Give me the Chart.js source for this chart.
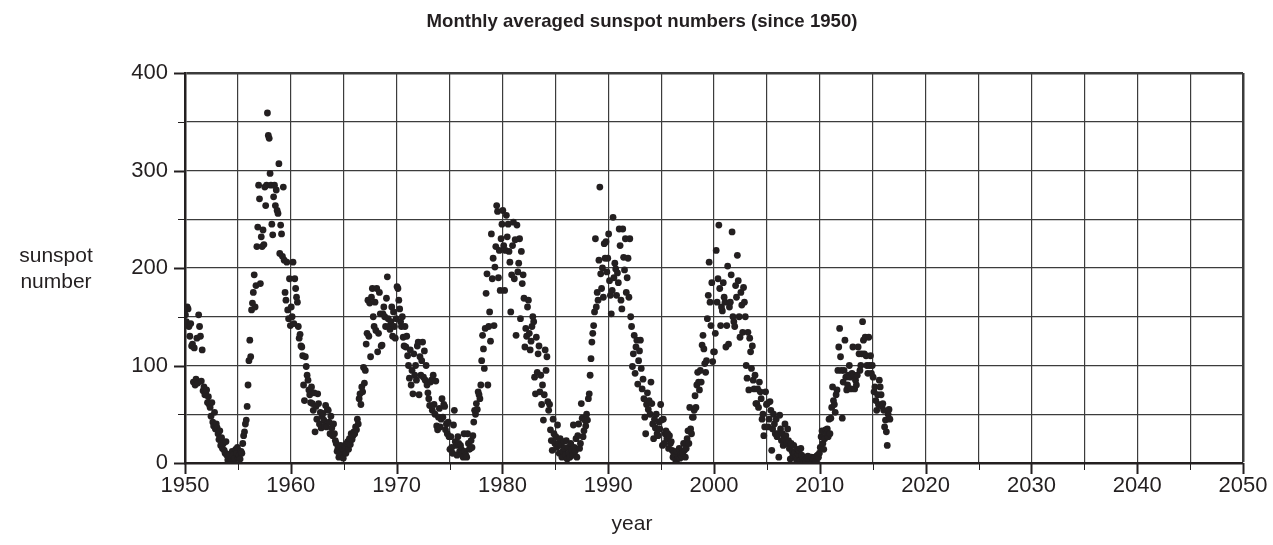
<!DOCTYPE html>
<html>
<head>
<meta charset="utf-8">
<script src="https://cdn.jsdelivr.net/npm/chart.js@4.4.1/dist/chart.umd.min.js"></script>
<style>
  html, body { margin: 0; padding: 0; background: #fff; }
  #myChart { display: block; }
</style>
</head>
<body>
<canvas id="myChart" width="1273" height="545"></canvas>
<script>
// Monthly averaged sunspot numbers, one array per decade (Jan..Dec for each year)
const ssn1950s = [
  152, 145, 160, 158, 140, 130, 143, 120, 122, 83, 118, 80,
  86, 128, 82, 152, 140, 130, 84, 116, 74, 78, 70, 72,
  75, 62, 68, 60, 57, 48, 62, 42, 38, 52, 35, 40,
  36, 30, 24, 33, 18, 26, 15, 20, 13, 10, 22, 8,
  3, 6, 9, 2, 4, 12, 8, 3, 5, 14, 10, 16,
  5, 8, 4, 12, 10, 20, 28, 32, 40, 44, 58, 80,
  105, 126, 109, 157, 164, 175, 193, 160, 182, 222, 242, 285,
  271, 184, 232, 222, 239, 224, 283, 264, 285, 359, 336, 333,
  297, 285, 245, 234, 273, 285, 264, 280, 259, 256, 307, 215,
  244, 235, 212, 283, 208, 175, 167, 206, 157, 148, 189, 141
];
const ssn1960s = [
  160, 150, 206, 143, 189, 179, 170, 165, 140, 128, 132, 120,
  119, 110, 80, 64, 109, 99, 90, 85, 75, 70, 62, 78,
  61, 54, 72, 32, 58, 45, 71, 61, 40, 52, 36, 48,
  51, 44, 38, 59, 37, 55, 54, 42, 30, 48, 36, 28,
  40, 30, 23, 20, 12, 15, 6, 10, 18, 8, 14, 5,
  13, 18, 10, 20, 22, 14, 25, 19, 30, 24, 28, 32,
  30, 37, 34, 45, 40, 66, 71, 60, 78, 73, 98, 82,
  95, 122, 133, 167, 130, 164, 109, 170, 179, 150, 140, 165,
  136, 179, 114, 133, 175, 153, 120, 121, 153, 160, 150, 140,
  169, 191, 148, 140, 137, 145, 160, 130, 155, 140, 128, 148
];
const ssn1970s = [
  181, 179, 167, 158, 145, 140, 150, 129, 120, 140, 119, 130,
  110, 100, 87, 116, 80, 95, 71, 112, 90, 100, 85, 120,
  124, 70, 109, 90, 105, 124, 88, 115, 85, 100, 80, 72,
  66, 59, 83, 85, 54, 90, 60, 50, 84, 38, 34, 47,
  56, 37, 45, 66, 47, 60, 58, 34, 40, 30, 42, 27,
  14, 27, 16, 10, 39, 54, 22, 18, 8, 27, 20, 12,
  18, 14, 10, 6, 30, 12, 8, 6, 30, 20, 14, 15,
  23, 16, 28, 42, 54, 50, 61, 55, 73, 70, 66, 80,
  105, 131, 117, 97, 138, 174, 194, 80, 140, 155, 125, 235,
  189, 210, 141, 201, 222, 264, 258, 190, 218, 177, 230, 245
];
const ssn1980s = [
  259, 223, 177, 218, 254, 232, 245, 217, 206, 155, 193, 223,
  247, 189, 229, 131, 244, 196, 205, 230, 148, 217, 184, 193,
  169, 119, 138, 130, 160, 167, 133, 116, 125, 140, 150, 145,
  88, 71, 129, 93, 112, 120, 73, 90, 60, 80, 44, 70,
  116, 95, 109, 63, 54, 60, 34, 23, 13, 45, 30, 20,
  27, 16, 39, 20, 10, 25, 18, 6, 12, 22, 15, 8,
  23, 4, 16, 10, 6, 20, 14, 8, 39, 16, 12, 25,
  6, 28, 40, 15, 20, 61, 46, 27, 33, 44, 38, 50,
  44, 66, 71, 90, 107, 124, 133, 141, 155, 230, 160, 175,
  167, 208, 283, 194, 179, 200, 170, 225, 210, 227, 196, 210
];
const ssn1990s = [
  235, 187, 172, 153, 177, 252, 190, 205, 199, 172, 195, 185,
  240, 223, 167, 158, 240, 211, 198, 230, 175, 190, 210, 170,
  230, 150, 140, 99, 112, 131, 92, 119, 126, 81, 105, 115,
  126, 97, 76, 86, 66, 47, 30, 60, 72, 55, 64, 50,
  83, 61, 40, 25, 45, 36, 50, 30, 28, 42, 35, 60,
  44, 18, 45, 20, 30, 33, 25, 30, 15, 28, 20, 22,
  13, 6, 10, 8, 3, 12, 4, 6, 15, 5, 9, 7,
  10, 20, 13, 6, 15, 25, 33, 20, 57, 35, 30, 47,
  47, 54, 69, 57, 80, 93, 83, 75, 95, 83, 121, 131,
  117, 102, 93, 105, 148, 172, 206, 165, 141, 185, 104, 114
];
const ssn2000s = [
  114, 133, 218, 165, 189, 244, 179, 141, 160, 156, 185, 170,
  165, 119, 141, 202, 122, 160, 165, 193, 237, 150, 145, 140,
  182, 170, 213, 187, 150, 129, 175, 162, 134, 180, 165, 150,
  100, 87, 134, 75, 128, 114, 97, 120, 85, 76, 90, 61,
  61, 76, 57, 83, 73, 66, 45, 50, 28, 37, 73, 60,
  61, 37, 45, 63, 54, 13, 35, 50, 40, 30, 45, 27,
  30, 6, 49, 35, 23, 30, 18, 25, 40, 28, 20, 35,
  23, 15, 4, 20, 12, 8, 18, 10, 6, 3, 14, 9,
  13, 3, 15, 8, 4, 2, 6, 3, 1, 5, 7, 4,
  2, 3, 6, 1, 4, 5, 6, 2, 7, 8, 6, 10
];
const ssn2010s = [
  16, 27, 33, 20, 14, 25, 34, 30, 35, 27, 45, 30,
  46, 57, 78, 64, 60, 52, 70, 75, 95, 119, 138, 109,
  95, 46, 83, 95, 126, 88, 75, 80, 90, 100, 88, 76,
  92, 119, 90, 76, 85, 80, 90, 119, 112, 95, 100, 112,
  145, 126, 112, 129, 110, 100, 92, 129, 100, 110, 92, 100,
  88, 73, 78, 64, 54, 70, 60, 85, 78, 70, 58, 61,
  54, 37, 44, 32, 18, 50, 55, 45
];
const decadeStarts = [1950, 1960, 1970, 1980, 1990, 2000, 2010];

// tick labels
const xLabelYears = [1950, 1960, 1970, 1980, 1990, 2000, 2010, 2020, 2030, 2040, 2050];
const yLabelValues = [0, 100, 200, 300, 400];

const INK = "#231f20";
const FONT = "'Liberation Sans', Arial, sans-serif";

// build points (month centre within the year)
const points = [];
[ssn1950s, ssn1960s, ssn1970s, ssn1980s, ssn1990s, ssn2000s, ssn2010s].forEach((arr, d) => {
  arr.forEach((v, i) => {
    points.push({ x: decadeStarts[d] + (i + 0.5) / 12, y: v });
  });
});

// Outer tick marks, long on labelled values, short between -------- { ticks }
const tickMarks = {
  id: "tickMarks",
  afterDraw(chart) {
    const { ctx, scales } = chart;
    const x = scales.x, y = scales.y;
    ctx.save();
    ctx.strokeStyle = INK;
    for (let v = 1950; v <= 2050; v += 5) {
      const major = xLabelYears.includes(v);
      const px = Math.round(x.getPixelForValue(v)) + 0.5;
      ctx.lineWidth = major ? 2 : 1;
      ctx.beginPath();
      ctx.moveTo(px, y.bottom);
      ctx.lineTo(px, y.bottom + (major ? 11 : 7));
      ctx.stroke();
    }
    for (let v = 0; v <= 400; v += 50) {
      const major = yLabelValues.includes(v);
      const py = Math.round(y.getPixelForValue(v)) + 0.5;
      ctx.lineWidth = major ? 2 : 1;
      ctx.beginPath();
      ctx.moveTo(x.left, py);
      ctx.lineTo(x.left - (major ? 11 : 7), py);
      ctx.stroke();
    }
    ctx.restore();
  },
};

// Title and axis names
const chartTexts = {
  id: "chartTexts",
  afterDraw(chart) {
    const ctx = chart.ctx;
    ctx.save();
    ctx.fillStyle = INK;
    ctx.textAlign = "center";
    ctx.textBaseline = "middle";
    ctx.font = "bold 18.6px " + FONT;
    ctx.fillText("Monthly averaged sunspot numbers (since 1950)", 642, 22);
    ctx.font = "21px " + FONT;
    ctx.fillText("sunspot", 56, 256);
    ctx.fillText("number", 56, 282);
    ctx.fillText("year", 632, 524);
    ctx.restore();
  },
};

const ctx = document.getElementById("myChart").getContext("2d");
const myChart = new Chart(ctx, {
  type: "scatter",
  data: {
    datasets: [
      {
        label: "sunspot number",
        data: points,
        backgroundColor: INK,
        borderWidth: 0,
        pointRadius: 3.4,
      },
    ],
  },
  options: {
    responsive: false,
    animation: false,
    events: [],
    layout: {
      padding: { top: 73, right: 30, bottom: 0, left: 0 },
    },
    scales: {
      x: {
        type: "linear",
        min: 1950,
        max: 2050,
        afterFit: (s) => {
          s.height = 82;
          s.paddingLeft = 0;
          s.paddingRight = 0;
        },
        border: { color: INK, width: 2.5 },
        grid: {
          color: "#3c3c3c",
          lineWidth: (c) => (c.tick && c.tick.value === 2050 ? 2.5 : 1.2),
          drawTicks: false,
        },
        ticks: {
          stepSize: 5,
          autoSkip: false,
          maxRotation: 0,
          padding: 10,
          color: INK,
          font: { family: FONT, size: 22 },
          callback: (v) => (xLabelYears.includes(v) ? String(v) : ""),
        },
      },
      y: {
        min: 0,
        max: 400,
        afterFit: (s) => { s.width = 185; },
        border: { color: INK, width: 2.5 },
        grid: {
          color: "#3c3c3c",
          lineWidth: (c) => (c.tick && c.tick.value === 400 ? 2.5 : 1.2),
          drawTicks: false,
        },
        ticks: {
          stepSize: 50,
          autoSkip: false,
          padding: 17,
          color: INK,
          font: { family: FONT, size: 22 },
          callback: (v) => (yLabelValues.includes(v) ? String(v) : ""),
        },
      },
    },
    plugins: {
      legend: { display: false },
      tooltip: { enabled: false },
      title: { display: false },
    },
  },
  plugins: [tickMarks, chartTexts],
});
</script>
</body>
</html>
